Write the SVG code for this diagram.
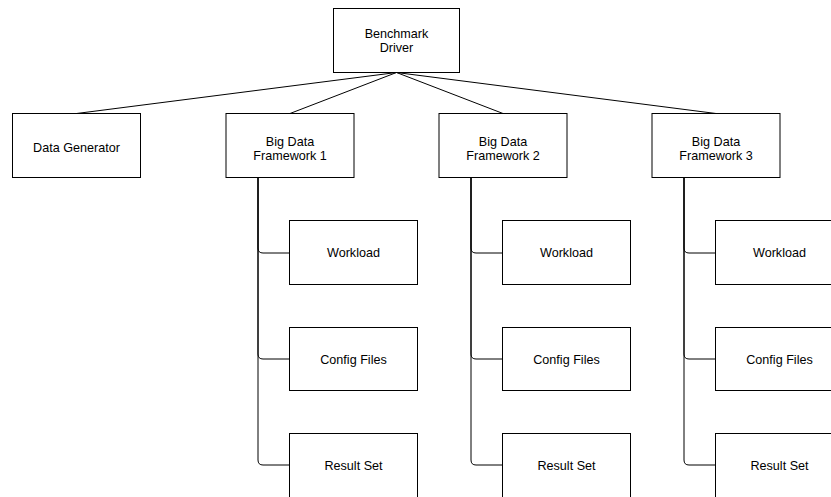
<svg xmlns="http://www.w3.org/2000/svg" width="831" height="497" viewBox="0 0 831 497">
  <style>
    .box { fill: #ffffff; stroke: #000000; stroke-width: 1; }
    .edge { fill: none; stroke: #000000; stroke-width: 1; }
    .lbl { font-family: "Liberation Sans", Arial, Helvetica, sans-serif; font-size: 12.6px; fill: #000000; text-anchor: middle; }
  </style>
  <rect x="0" y="0" width="831" height="497" fill="#ffffff"/>

  <!-- connectors -->
  <g id="connectors">
    <path class="edge" d="M396.5 72.5 L76.5 113.5"/>
    <path class="edge" d="M396.5 72.5 L290 113.5"/>
    <path class="edge" d="M396.5 72.5 L503 113.5"/>
    <path class="edge" d="M396.5 72.5 L716 113.5"/>

    <path class="edge" d="M258 178 L258 248 Q258 253 263 253 L289.5 253"/>
    <path class="edge" d="M258 178 L258 354 Q258 359 263 359 L289.5 359"/>
    <path class="edge" d="M258 178 L258 460 Q258 465 263 465 L289.5 465"/>

    <path class="edge" d="M471 178 L471 248 Q471 253 476 253 L502.5 253"/>
    <path class="edge" d="M471 178 L471 354 Q471 359 476 359 L502.5 359"/>
    <path class="edge" d="M471 178 L471 460 Q471 465 476 465 L502.5 465"/>

    <path class="edge" d="M684 178 L684 248 Q684 253 689 253 L715.5 253"/>
    <path class="edge" d="M684 178 L684 354 Q684 359 689 359 L715.5 359"/>
    <path class="edge" d="M684 178 L684 460 Q684 465 689 465 L715.5 465"/>
  </g>

  <g id="benchmark-driver">
    <rect class="box" x="333.5" y="8.5" width="126" height="64"/>
    <text class="lbl" x="396.5" y="38.3">Benchmark</text>
    <text class="lbl" x="396.5" y="52.3">Driver</text>
  </g>

  <g id="data-generator">
    <rect class="box" x="12.5" y="113.5" width="128" height="64"/>
    <text class="lbl" x="76.5" y="151.5">Data Generator</text>
  </g>

  <g id="framework-1">
    <rect class="box" x="226" y="113.5" width="128" height="64"/>
    <text class="lbl" x="290" y="146.3">Big Data</text>
    <text class="lbl" x="290" y="160.3">Framework 1</text>
  </g>
  <g id="framework-2">
    <rect class="box" x="439" y="113.5" width="128" height="64"/>
    <text class="lbl" x="503" y="146.3">Big Data</text>
    <text class="lbl" x="503" y="160.3">Framework 2</text>
  </g>
  <g id="framework-3">
    <rect class="box" x="652" y="113.5" width="128" height="64"/>
    <text class="lbl" x="716" y="146.3">Big Data</text>
    <text class="lbl" x="716" y="160.3">Framework 3</text>
  </g>

  <g id="workload-1">
    <rect class="box" x="289.5" y="220.5" width="128" height="64"/>
    <text class="lbl" x="353.5" y="257">Workload</text>
  </g>
  <g id="config-1">
    <rect class="box" x="289.5" y="327.5" width="128" height="63"/>
    <text class="lbl" x="353.5" y="364">Config Files</text>
  </g>
  <g id="result-1">
    <rect class="box" x="289.5" y="433.5" width="128" height="64"/>
    <text class="lbl" x="353.5" y="470">Result Set</text>
  </g>

  <g id="workload-2">
    <rect class="box" x="502.5" y="220.5" width="128" height="64"/>
    <text class="lbl" x="566.5" y="257">Workload</text>
  </g>
  <g id="config-2">
    <rect class="box" x="502.5" y="327.5" width="128" height="63"/>
    <text class="lbl" x="566.5" y="364">Config Files</text>
  </g>
  <g id="result-2">
    <rect class="box" x="502.5" y="433.5" width="128" height="64"/>
    <text class="lbl" x="566.5" y="470">Result Set</text>
  </g>

  <g id="workload-3">
    <rect class="box" x="715.5" y="220.5" width="128" height="64"/>
    <text class="lbl" x="779.5" y="257">Workload</text>
  </g>
  <g id="config-3">
    <rect class="box" x="715.5" y="327.5" width="128" height="63"/>
    <text class="lbl" x="779.5" y="364">Config Files</text>
  </g>
  <g id="result-3">
    <rect class="box" x="715.5" y="433.5" width="128" height="64"/>
    <text class="lbl" x="779.5" y="470">Result Set</text>
  </g>
</svg>
